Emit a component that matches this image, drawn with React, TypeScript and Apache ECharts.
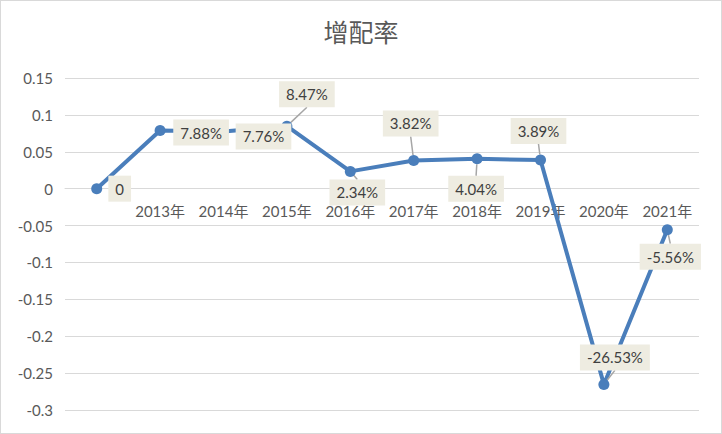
import React, { useEffect, useRef } from "react";
import * as echarts from "echarts";

const categories = ["", "2013年", "2014年", "2015年", "2016年", "2017年", "2018年", "2019年", "2020年", "2021年"];
const values = [0, 0.0788, 0.0776, 0.0847, 0.0234, 0.0382, 0.0404, 0.0389, -0.2653, -0.0556];
const labelTexts = ["0", "7.88%", "7.76%", "8.47%", "2.34%", "3.82%", "4.04%", "3.89%", "-26.53%", "-5.56%"];
const yTicks = { min: -0.3, max: 0.15, interval: 0.05 };

// label displacement (px) relative to each point, and whether a leader line is drawn
const labelOffsets: [number, number][] = [
  [23, 0], [41, 2], [40, 5], [20, -32], [7, 21], [-3, -37], [-1, 30], [-2, -29], [11, -27], [3, 27],
];
const leaderLines = [false, false, false, true, true, true, true, true, true, true];

const FONT = "Lato, 'Noto Sans CJK SC', sans-serif";
const CHART_H = 432;
const GRID = { left: 64, right: 22, top: 77, bottom: 23 };

export default function App() {
  const ref = useRef<HTMLDivElement>(null);
  useEffect(() => {
    if (!ref.current) return;
    const chart = echarts.init(ref.current, undefined, { renderer: "svg" });
    const plotH = CHART_H - GRID.top - GRID.bottom;
    const zeroOffset = -plotH * (0 - yTicks.min) / (yTicks.max - yTicks.min);
    chart.setOption({
      animation: false,
      backgroundColor: "#ffffff",
      title: {
        text: "增配率",
        left: "center",
        top: 13,
        textStyle: { color: "#595959", fontSize: 25, fontWeight: "normal", fontFamily: FONT },
      },
      grid: GRID,
      xAxis: {
        type: "category",
        data: categories,
        boundaryGap: true,
        position: "bottom",
        offset: zeroOffset,
        axisLine: { show: true, onZero: false, lineStyle: { color: "#d9d9d9", width: 1 } },
        axisTick: { show: false },
        axisLabel: { color: "#595959", fontSize: 15, fontFamily: FONT, margin: 15, interval: 0 },
        splitLine: { show: false },
      },
      yAxis: {
        type: "value",
        min: yTicks.min,
        max: yTicks.max,
        interval: yTicks.interval,
        axisLine: { show: false },
        axisTick: { show: false },
        axisLabel: {
          color: "#595959",
          fontSize: 15,
          fontFamily: FONT,
          margin: 12,
          formatter: (v: number) => String(+v.toFixed(2)),
        },
        splitLine: { show: true, lineStyle: { color: "#d9d9d9", width: 1 } },
      },
      series: [
        {
          type: "line",
          data: values.map((v, i) => ({
            value: v,
            labelLine: { show: leaderLines[i] },
          })),
          symbol: "circle",
          symbolSize: 11,
          lineStyle: { color: "#4a7ebb", width: 4 },
          itemStyle: { color: "#4a7ebb" },
          label: {
            show: true,
            position: "inside",
            formatter: (p: any) => labelTexts[p.dataIndex],
            color: "#404040",
            fontSize: 15,
            fontFamily: FONT,
            backgroundColor: "#eeece1",
            padding: [6, 7, 5, 7],
          },
          labelLine: { show: false, lineStyle: { color: "#a6a6a6", width: 1.5 } },
          labelLayout: (params: any) => {
            const o = labelOffsets[params.dataIndex];
            return { dx: o[0], dy: o[1], hideOverlap: false };
          },
          z: 3,
        },
      ],
    });
    return () => chart.dispose();
  }, []);
  return (
    <div
      style={{
        position: "fixed",
        left: 0,
        top: 0,
        width: 722,
        height: 434,
        boxSizing: "border-box",
        border: "1px solid #d9d9d9",
        background: "#fff",
      }}
    >
      <div ref={ref} style={{ width: 720, height: CHART_H }} />
    </div>
  );
}
